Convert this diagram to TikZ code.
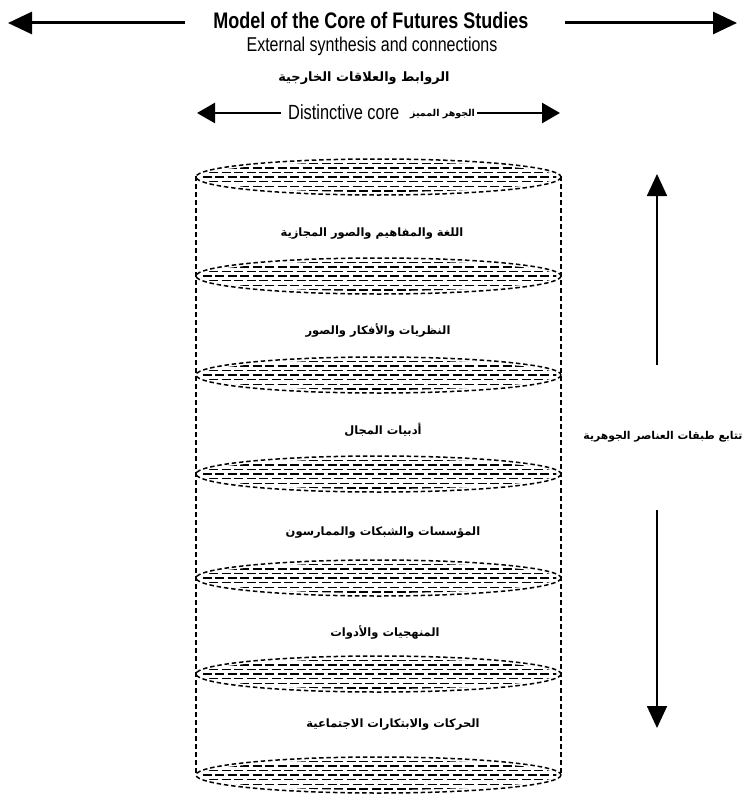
\documentclass[tikz,border=0pt]{standalone}
\usepackage{fontspec}
\usetikzlibrary{arrows.meta}
\setmainfont{Liberation Sans}
\newfontfamily\narrowfont[FakeStretch=0.8]{Liberation Sans}
\newfontfamily\arabicfont[Script=Arabic]{DejaVu Sans}
\TeXXeTstate=1
\newcommand{\ar}[1]{{\arabicfont\bfseries\beginR #1\endR}}
\tikzset{
  bigarrow/.style={line width=3pt,-{Triangle[width=22pt,length=24pt]}},
  midarrow/.style={line width=2.6pt,-{Triangle[width=20pt,length=18pt]}},
  vertarrow/.style={line width=1.8pt,-{Triangle[width=20pt,length=22pt]}},
  diskline/.style={line width=1.5pt,dash pattern=on 4.5pt off 2.8pt},
  sideline/.style={line width=1.3pt,dash pattern=on 5pt off 3pt},
  hatch/.style={line width=1.4pt},
  layerlabel/.style={font=\fontsize{11.5}{13}\selectfont, inner sep=1pt},
}
\begin{document}
\begin{tikzpicture}[x=1pt,y=-1pt]
\useasboundingbox (0,0) rectangle (744,800);
\fill[white] (0,0) rectangle (744,800);

% Top title and arrows
\node[font=\narrowfont\bfseries\fontsize{22.5}{24}\selectfont, inner sep=2pt] (title) at (371,20) {Model of the Core of Futures Studies};
\coordinate (tl0) at (185,23);
\coordinate (tl1) at (8,23);
\coordinate (tr0) at (565,23);
\coordinate (tr1) at (737,23);
\draw[bigarrow] (tl0) -- (tl1);
\draw[bigarrow] (tr0) -- (tr1);

\node[font=\narrowfont\fontsize{20}{22}\selectfont, inner sep=1pt] (ext) at (372,46) {External synthesis and connections};
\node[font=\fontsize{12.9}{15}\selectfont, inner sep=1pt] (extar) at (364,78) {\ar{الروابط والعلاقات الخارجية}};

% Distinctive core row
\node[font=\narrowfont\fontsize{20.5}{22}\selectfont, inner sep=1pt, anchor=west] (dcore) at (287,112) {Distinctive core};
\node[font=\fontsize{9.5}{11}\selectfont, inner sep=1pt, anchor=west] (dcorear) at (409,114) {\ar{الجوهر المميز}};
\coordinate (dl1) at (197,113);
\coordinate (dr1) at (560,113);
\draw[midarrow] (dcore.west) ++(-6,1) coordinate (dl0) -- (dl1);
\draw[midarrow] (dcorear.east) ++(1,-1) coordinate (dr0) -- (dr1);

% Cylinder sides
\coordinate (lt) at (196,176);
\coordinate (lb) at (196,775);
\coordinate (rt) at (561,176);
\coordinate (rb) at (561,775);
\draw[sideline] (lt) -- (lb);
\draw[sideline] (rt) -- (rb);

% Disks
\foreach \yy/\nm in {177/d1,276/d2,375/d3,474/d4,578/d5,674/d6,775/d7}{
  \begin{scope}
    \clip (378.5,\yy) ellipse [x radius=178, y radius=15];
    \foreach \k in {-3,...,3}{
      \pgfmathsetmacro\ph{mod(\k+10,2)*6}
      \draw[hatch,dash pattern=on 9pt off 3.5pt,dash phase=\ph pt] (190,\yy+\k*4.6) -- (570,\yy+\k*4.6);
    }
  \end{scope}
  \draw[diskline] (378.5,\yy) ellipse [x radius=182.5, y radius=18];
  \coordinate (\nm) at (378.5,\yy);
}

% Layer labels
\node[layerlabel] (L1) at (372,234) {\ar{اللغة والمفاهيم والصور المجازية}};
\node[layerlabel] (L2) at (378,330) {\ar{النظريات والأفكار والصور}};
\node[layerlabel] (L3) at (383,430) {\ar{أدبيات المجال}};
\node[layerlabel] (L4) at (383,533) {\ar{المؤسسات والشبكات والممارسون}};
\node[layerlabel] (L5) at (385,632) {\ar{المنهجيات والأدوات}};
\node[layerlabel] (L6) at (393,725) {\ar{الحركات والابتكارات الاجتماعية}};

% Right vertical arrows
\node[inner sep=1pt, font=\fontsize{10.8}{12}\selectfont] (seq) at (663,437) {\ar{تتابع طبقات العناصر الجوهرية}};
\coordinate (ua0) at (657,365);
\coordinate (ua1) at (657,174);
\coordinate (da0) at (657,510);
\coordinate (da1) at (657,728);
\draw[vertarrow] (ua0) -- (ua1);
\draw[vertarrow] (da0) -- (da1);
\end{tikzpicture}
\end{document}
